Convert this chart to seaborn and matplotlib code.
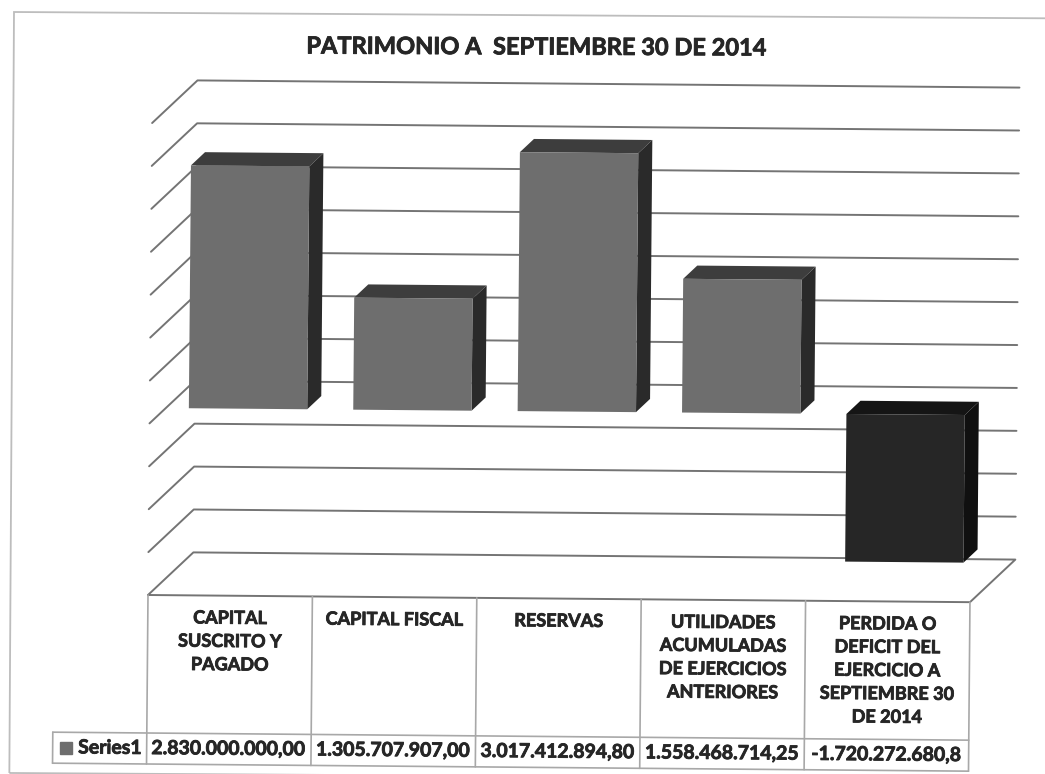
import matplotlib
matplotlib.use('Agg')
import matplotlib.pyplot as plt
import matplotlib.patheffects as pe
from matplotlib.patches import Rectangle
from matplotlib.transforms import Affine2D
import pandas as pd
import seaborn as sns

# --- DATA ---
CATEGORIES = ['CAPITAL\nSUSCRITO Y\nPAGADO', 'CAPITAL FISCAL', 'RESERVAS',
              'UTILIDADES\nACUMULADAS\nDE EJERCICIOS\nANTERIORES',
              'PERDIDA O\nDEFICIT DEL\nEJERCICIO A\nSEPTIEMBRE 30\nDE 2014']
VALUES = [2830000000.00, 1305707907.00, 3017412894.80, 1558468714.25, -1720272680.8]
VALUE_LABELS = ['2.830.000.000,00', '1.305.707.907,00', '3.017.412.894,80',
                '1.558.468.714,25', '-1.720.272.680,8']
SERIES_NAME = 'Series1'
TITLE = 'PATRIMONIO A  SEPTIEMBRE 30 DE 2014'
Y_TICKS = [-2.0e9, -1.5e9, -1.0e9, -0.5e9, 0.0, 0.5e9, 1.0e9, 1.5e9, 2.0e9, 2.5e9, 3.0e9, 3.5e9]

# --- LAYOUT (pixels of the 1045x774 picture) ---
W, H = 1045, 774
PLOT_L, PLOT_R, PLOT_BOTTOM, PLOT_TOP = 148, 970, 595, 123
TILT = -0.5
DEPTH_X, DEPTH_Y = 45, 43      # floor depth on screen
BAR_FRONT, BAR_DEPTH = 0.36, 0.31
HEADER_H, VALUE_H = 138, 31
FONT = 'Lato'
GRID = '#747474'
TABLE = '#a8a8a8'
TEXT = '#262626'
HEAVY = [pe.withStroke(linewidth=0.6, foreground=TEXT)]   # scan makes the bold look fatter

sns.set_theme(style='white')
fig = plt.figure(figsize=(W / 100, H / 100), dpi=100, facecolor='white')
ax = fig.add_axes([PLOT_L / W, (H - PLOT_BOTTOM) / H, (PLOT_R - PLOT_L) / W, (PLOT_BOTTOM - PLOT_TOP) / H])

df = pd.DataFrame({'categoria': CATEGORIES, 'valor': VALUES})
sns.barplot(data=df, x='categoria', y='valor', width=0.72, color='#6e6e6e', linewidth=0, ax=ax)
ax.set_xlim(-0.5, 4.5)
ax.set_ylim(Y_TICKS[0], Y_TICKS[-1])
ax.axis('off')

# the scan is slightly rotated, everything goes through this
tilt = Affine2D().rotate_deg_around(PLOT_L, H - PLOT_BOTTOM, TILT)
base = ax.transData + tilt
px_x = (PLOT_R - PLOT_L) / 5
px_y = (PLOT_BOTTOM - PLOT_TOP) / (Y_TICKS[-1] - Y_TICKS[0])
dx, dy = DEPTH_X / px_x, DEPTH_Y / px_y
floor = Y_TICKS[0]
right_end = 4.5 + (1015 - PLOT_R - DEPTH_X) / px_x

# back wall and left wall lines
for tick in Y_TICKS[1:]:
    ax.plot([-0.5, -0.5 + dx, right_end + dx], [tick, tick + dy, tick + dy],
            color=GRID, lw=1.4, transform=base, clip_on=False, zorder=1)

# floor
ax.plot([-0.5, -0.5 + dx, 4.5 + dx, 4.5, -0.5], [floor, floor + dy, floor + dy, floor, floor],
        color=GRID, lw=1.4, transform=base, clip_on=False, zorder=1)

# bars: fronts come from seaborn, top and side faces are built on them
for i, bar in enumerate(ax.patches):
    x0, w = bar.get_x(), bar.get_width()
    val = VALUES[i]
    off_x, off_y = BAR_FRONT * dx, BAR_FRONT * dy
    bar.set_transform(Affine2D().translate(off_x, off_y) + base)
    bar.set_clip_on(False)
    bar.set_zorder(4)
    if val < 0:
        bar.set_facecolor('#262626')
    top_col, side_col = ('#151515', '#101010') if val < 0 else ('#3d3d3d', '#2a2a2a')
    d_x, d_y = BAR_DEPTH * dx, BAR_DEPTH * dy
    hi, lo = max(val, 0), min(val, 0)
    xl, xr = x0 + off_x, x0 + w + off_x
    hi_o, lo_o = hi + off_y, lo + off_y
    ax.fill([xl, xl + d_x, xr + d_x, xr], [hi_o, hi_o + d_y, hi_o + d_y, hi_o],
            color=top_col, lw=0, transform=base, clip_on=False, zorder=3)
    ax.fill([xr, xr + d_x, xr + d_x, xr], [lo_o, lo_o + d_y, hi_o + d_y, hi_o],
            color=side_col, lw=0, transform=base, clip_on=False, zorder=3)

# data table under the floor
row_mid = floor - HEADER_H / px_y
row_bot = row_mid - VALUE_H / px_y
key_left = -0.5 - 94 / px_x
ax.plot([key_left, 4.5], [row_mid, row_mid], color=TABLE, lw=1.2, transform=base, clip_on=False)
ax.plot([key_left, 4.5], [row_bot, row_bot], color=TABLE, lw=1.2, transform=base, clip_on=False)
ax.plot([key_left, key_left], [row_mid, row_bot], color=TABLE, lw=1.2, transform=base, clip_on=False)
for i in range(6):
    ax.plot([i - 0.5, i - 0.5], [floor, row_bot], color=TABLE, lw=1.2, transform=base, clip_on=False)

for i, (cat, lab) in enumerate(zip(CATEGORIES, VALUE_LABELS)):
    ax.text(i, floor - 14 / px_y, cat, ha='center', va='top', rotation=TILT, rotation_mode='anchor',
            transform=base, family=FONT, weight='bold', fontsize=13, color=TEXT, linespacing=1.45,
            path_effects=HEAVY)
    ax.text(i, (row_mid + row_bot) / 2, lab, ha='center', va='center', rotation=TILT, rotation_mode='anchor',
            transform=base, family=FONT, weight='bold', fontsize=14, color=TEXT, path_effects=HEAVY)
ax.text(-0.5 - 5 / px_x, (row_mid + row_bot) / 2, SERIES_NAME, ha='right', va='center', rotation=TILT,
        rotation_mode='anchor', transform=base, family=FONT, weight='bold', fontsize=14, color=TEXT,
        path_effects=HEAVY)
ax.plot([key_left + 13 / px_x], [(row_mid + row_bot) / 2], marker='s', ms=8, color='#6e6e6e',
        transform=base, clip_on=False)

# outer chart frame and title
frame = Rectangle((14, 1), 1100, 761, fill=False, ec='#bdbdbd', lw=1.3,
                  transform=Affine2D().rotate_deg_around(14, H - 12, TILT * 0.7))
fig.add_artist(frame)
fig.text(536 / W, 1 - 47 / H, TITLE, ha='center', va='center', rotation=TILT * 0.5, family=FONT,
         weight='bold', fontsize=17, color=TEXT, path_effects=HEAVY)

fig.savefig('out.png', dpi=100)
